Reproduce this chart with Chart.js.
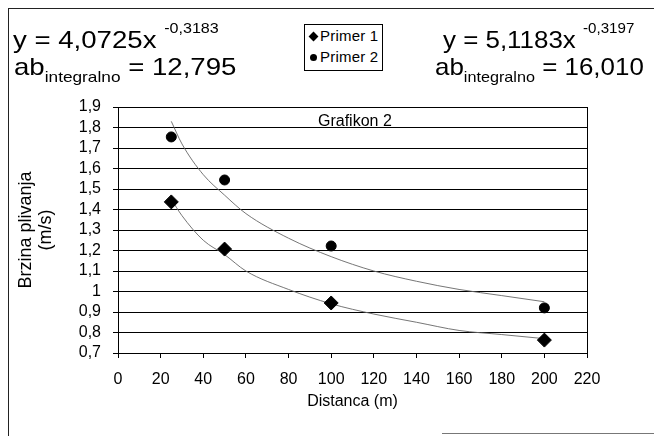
<!DOCTYPE html>
<html>
<head>
<meta charset="utf-8">
<script src="https://cdn.jsdelivr.net/npm/chart.js@4"></script>
<style>
  body { margin: 0; background: #fff; }
  #wrap { position: relative; width: 654px; height: 436px; font-family: "Liberation Sans", Arial, sans-serif; color: #000; overflow: hidden; }
  #wrap canvas { position: absolute; left: 0; top: 0; }
  .frame-l { position: absolute; left: 8px; top: 8px; width: 1px; height: 428px; background: #222; }
  .frame-t { position: absolute; left: 8px; top: 8px; width: 646px; height: 1px; background: #222; }
  .frame-b { position: absolute; left: 442px; top: 433px; width: 212px; height: 1px; background: #777; }
  .eq { position: absolute; font-size: 24px; line-height: 24px; white-space: nowrap; transform-origin: 0 0; }
  .eq.l { transform: scaleX(1.15); }
  .eq.r { transform: scaleX(1.08); }
  .eq sup { font-size: 14px; position: relative; top: -15px; vertical-align: baseline; }
  .eq sub { font-size: 15px; position: relative; top: 7px; vertical-align: baseline; }
  #legend { position: absolute; left: 304px; top: 24px; width: 77px; height: 45px; border: 1px solid #000; background: #fff;
            font-family: "Liberation Sans Narrow", "Liberation Sans", Arial, sans-serif; font-size: 15px; letter-spacing: 0.2px; }
  #legend div { height: 21px; line-height: 21px; padding-left: 5px; }
  .mk { display: inline-block; width: 7px; height: 7px; background: #000; margin-right: 3px; vertical-align: 1px; }
  .mk.d { transform: rotate(45deg); }
  .mk.c { border-radius: 50%; }
  #gtitle { position: absolute; left: 318px; top: 112px; font-size: 16px; line-height: 17px; }
</style>
</head>
<body>
<div id="wrap">
  <canvas id="chart" width="654" height="436"></canvas>
  <div class="frame-l"></div>
  <div class="frame-t"></div>
  <div class="frame-b"></div>
  <div class="eq l" style="left:13px; top:28px;">y = 4,0725x <sup>-0,3183</sup></div>
  <div class="eq l" style="left:14px; top:55px;">ab<sub>integralno</sub> = 12,795</div>
  <div class="eq r" style="left:443px; top:28px;">y = 5,1183x <sup>-0,3197</sup></div>
  <div class="eq r" style="left:435px; top:55px;">ab<sub>integralno</sub> = 16,010</div>
  <div id="legend"></div>
  <div id="gtitle">Grafikon 2</div>
</div>
<script>
// podaci (očitano sa grafika)
const seriesNames = ['Primer 1', 'Primer 2'];
const distances = [25, 50, 100, 200];
const primer1 = [1.437, 1.207, 0.944, 0.763];
const primer2 = [1.754, 1.544, 1.222, 0.92];

// trend linije (stepena funkcija), očitane tačke sa krive
const trendX = [25, 30, 40, 50, 60, 80, 100, 120, 140, 160, 180, 200];
const trend1 = [1.45, 1.37, 1.25, 1.18, 1.10, 1.01, 0.94, 0.89, 0.85, 0.81, 0.79, 0.77];
const trend2 = [1.83, 1.72, 1.57, 1.47, 1.38, 1.26, 1.17, 1.10, 1.05, 1.01, 0.98, 0.95];

const xTicks = [0, 20, 40, 60, 80, 100, 120, 140, 160, 180, 200, 220];
const yMin = 0.7, yMax = 1.9, yStep = 0.1;

const toPts = (xs, ys) => xs.map((x, i) => ({ x: x, y: ys[i] }));
const fmt = v => (Math.round(v * 10) / 10).toString().replace('.', ',');

// legenda
const legend = document.getElementById('legend');
seriesNames.forEach((name, i) => {
    legend.innerHTML += `<div><span class="mk ${i === 0 ? 'd' : 'c'}"></span>${name}</div>`;
});

// okvir oko plot oblasti
const areaBorder = {
    id: 'areaBorder',
    afterDraw(chart) {
        const { ctx, chartArea: a } = chart;
        ctx.save();
        ctx.strokeStyle = '#000';
        ctx.lineWidth = 1;
        ctx.strokeRect(Math.round(a.left) + 0.5, Math.round(a.top) + 0.5, Math.round(a.right - a.left), Math.round(a.bottom - a.top));
        ctx.restore();
    }
};

const trendStyle = { showLine: true, pointRadius: 0, borderColor: '#666', borderWidth: 0.9, cubicInterpolationMode: 'monotone', fill: false };

new Chart(document.getElementById('chart'), {
    type: 'scatter',
    data: {
        datasets: [
            { label: seriesNames[0], data: toPts(distances, primer1), pointStyle: 'rectRot', pointRadius: 7, backgroundColor: '#000', borderColor: '#000' },
            { label: seriesNames[1], data: toPts(distances, primer2), pointStyle: 'circle', pointRadius: 5, backgroundColor: '#000', borderColor: '#000' },
            Object.assign({ label: 'trend 1', data: toPts(trendX, trend1) }, trendStyle),
            Object.assign({ label: 'trend 2', data: toPts(trendX, trend2) }, trendStyle)
        ]
    },
    options: {
        responsive: false,
        animation: false,
        layout: { padding: { left: 0, top: 107, right: 67, bottom: 0 } },
        plugins: { legend: { display: false }, tooltip: { enabled: false } },
        scales: {
            x: {
                type: 'linear', min: 0, max: 220,
                afterBuildTicks: s => { s.ticks = xTicks.map(v => ({ value: v })); },
                afterFit: s => { s.height = 83; },
                ticks: { color: '#000', font: { family: 'Liberation Sans', size: 16 }, padding: 12, autoSkip: false, maxRotation: 0 },
                grid: { drawOnChartArea: false, color: '#000', tickLength: 5 },
                border: { color: '#000' },
                title: { display: true, text: 'Distanca (m)', color: '#000', font: { family: 'Liberation Sans', size: 16 }, padding: { bottom: 25 } }
            },
            y: {
                min: yMin, max: yMax,
                ticks: { stepSize: yStep, autoSkip: false, color: '#000', font: { family: 'Liberation Sans', size: 16 }, padding: 12, callback: v => fmt(v) },
                afterFit: s => { s.width = 118; },
                grid: { color: '#000', lineWidth: 1, tickLength: 5 },
                border: { color: '#000' },
                title: { display: true, text: ['Brzina plivanja', '(m/s)'], color: '#000', font: { family: 'Liberation Sans', size: 18, lineHeight: 1.1 }, padding: { top: 16 } }
            }
        }
    },
    plugins: [areaBorder]
});
</script>
</body>
</html>
